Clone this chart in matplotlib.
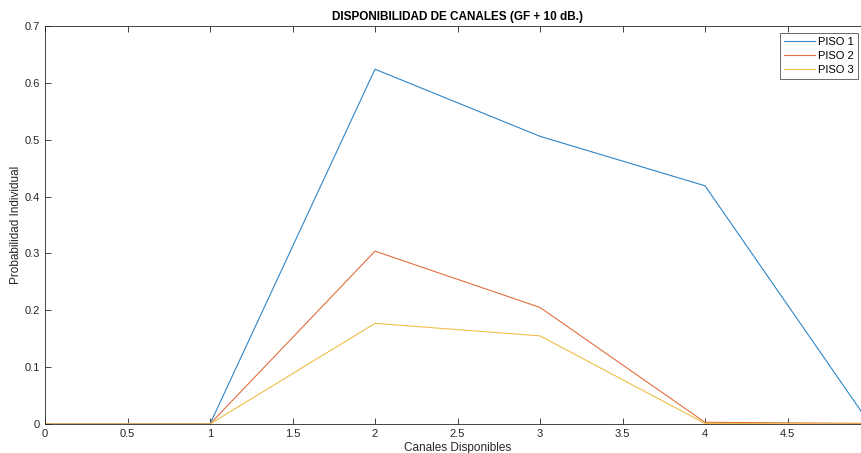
import numpy as np
import matplotlib.pyplot as plt

plt.rcParams['font.family'] = ['Liberation Sans', 'DejaVu Sans']

canales = [0, 1, 2, 3, 4, 5]
piso1 = [0, 0, 0.624, 0.506, 0.419, 0]
piso2 = [0, 0, 0.304, 0.205, 0.003, 0.001]
piso3 = [0, 0, 0.177, 0.155, 0.001, 0]
nombres = ['PISO 1', 'PISO 2', 'PISO 3']
colores = ['#2E86C9', '#E0703F', '#F0BE4A']

fig = plt.figure(figsize=(8.61, 4.53), dpi=100)
ax = fig.add_axes([45/861, 29/453, 825/861, 398/453])

for y, n, c in zip([piso1, piso2, piso3], nombres, colores):
    ax.plot(canales, y, color=c, lw=0.8, label=n)

ax.set_xlim(0, 5)
ax.set_ylim(0, 0.7)
ax.set_xticks(np.arange(0, 4.51, 0.5))
ax.set_xticklabels(['0', '0.5', '1', '1.5', '2', '2.5', '3', '3.5', '4', '4.5'])
ax.set_yticks(np.arange(0, 0.71, 0.1))
ax.set_yticklabels(['0', '0.1', '0.2', '0.3', '0.4', '0.5', '0.6', '0.7'])
ax.tick_params(direction='in', top=True, right=True, labelsize=8, colors='#262626',
               length=4, width=0.6)
for s in ax.spines.values():
    s.set_color('#262626')
    s.set_linewidth(0.6)

ax.set_title('DISPONIBILIDAD DE CANALES (GF + 10 dB.)', fontsize=8.5, fontweight='bold', pad=4)
ax.set_xlabel('Canales Disponibles', fontsize=8.5, color='#262626', labelpad=2)
ax.set_ylabel('Probabilidad Individual', fontsize=8.5, color='#262626', labelpad=2)

leg = ax.legend(loc='upper right', bbox_to_anchor=(0.9855, 0.982), fontsize=8,
                frameon=True, fancybox=False, edgecolor='#262626', borderpad=0.35,
                handlelength=2.8, labelspacing=0.35, handletextpad=0.3, borderaxespad=0)
leg.get_frame().set_linewidth(0.6)

fig.savefig('out.png', dpi=100)
